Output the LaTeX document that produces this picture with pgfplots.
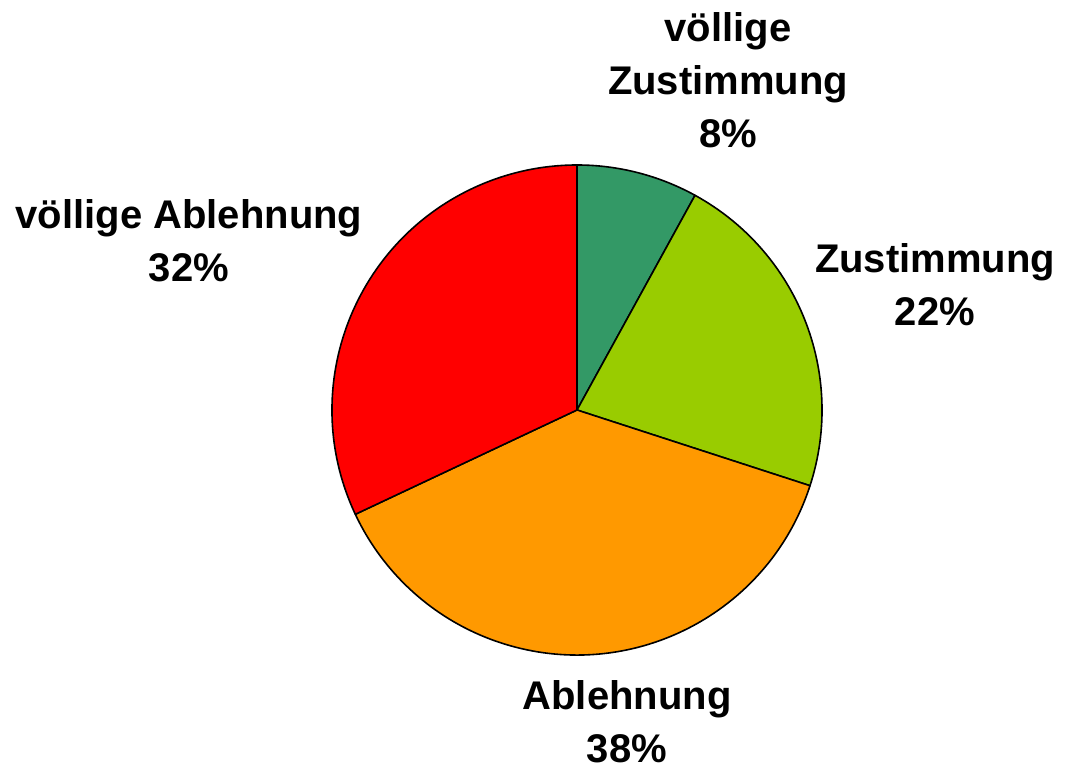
\documentclass[border=0pt]{standalone}
\usepackage{pgfplots}
\pgfplotsset{compat=1.18}
\usepackage{pgfplotstable}
\usepackage{fontspec}
\setmainfont{Liberation Sans}
\definecolor{cA}{HTML}{339966}
\definecolor{cB}{HTML}{99CC00}
\definecolor{cC}{HTML}{FF9900}
\definecolor{cD}{HTML}{FF0000}
\pgfplotstableread{
pct
8
22
38
32
}\piedata
\begin{document}
\begin{tikzpicture}
% cumulative angles (clockwise from 90 degrees)
\pgfplotstablegetelem{0}{pct}\of\piedata \pgfmathsetmacro\pA{\pgfplotsretval}
\pgfplotstablegetelem{1}{pct}\of\piedata \pgfmathsetmacro\pB{\pgfplotsretval}
\pgfplotstablegetelem{2}{pct}\of\piedata \pgfmathsetmacro\pC{\pgfplotsretval}
\pgfplotstablegetelem{3}{pct}\of\piedata \pgfmathsetmacro\pD{\pgfplotsretval}
\pgfmathsetmacro\aO{90}
\pgfmathsetmacro\aA{90-3.6*\pA}
\pgfmathsetmacro\aB{\aA-3.6*\pB}
\pgfmathsetmacro\aC{\aB-3.6*\pC}
\pgfmathsetmacro\aD{\aC-3.6*\pD}
\begin{axis}[
  at={(0,0)}, anchor=south west,
  width=1070pt, height=770pt, scale only axis,
  xmin=0, xmax=1070, ymin=0, ymax=770,
  hide axis, clip=false,
]
\newcommand\slice[3]{%
  \filldraw[fill=#3, draw=black, line width=1.6pt, line join=round]
    (axis cs:577,360) -- ++(#1:245pt) arc[start angle=#1, end angle=#2, radius=245pt] -- cycle;}
\slice{\aO}{\aA}{cA}
\slice{\aA}{\aB}{cB}
\slice{\aB}{\aC}{cC}
\slice{\aC}{\aD}{cD}
\tikzset{lbl/.style={align=center, font=\fontsize{40}{53}\selectfont\bfseries, inner sep=0pt}}
\node[lbl] at (axis cs:728,690) {völlige\\Zustimmung\\\pgfmathprintnumber[assume math mode=true]{\pA}\%};
\node[lbl] at (axis cs:935,485) {Zustimmung\\\pgfmathprintnumber[assume math mode=true]{\pB}\%};
\node[lbl] at (axis cs:627,48) {Ablehnung\\\pgfmathprintnumber[assume math mode=true]{\pC}\%};
\node[lbl] at (axis cs:189,529) {völlige Ablehnung\\\pgfmathprintnumber[assume math mode=true]{\pD}\%};
\end{axis}
\pgfresetboundingbox
\path (0,0) rectangle (1070pt,770pt);
\end{tikzpicture}
\end{document}
